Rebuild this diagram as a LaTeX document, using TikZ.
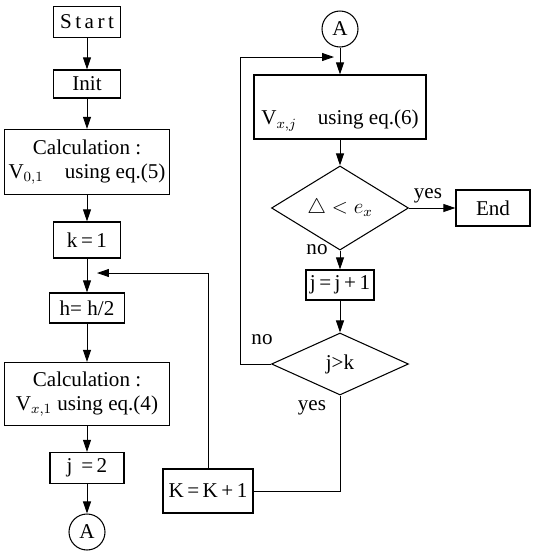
\documentclass[tikz,border=0pt]{standalone}
\usepackage{fontspec}
\setmainfont{Liberation Serif}
\usetikzlibrary{shapes.geometric, arrows.meta, positioning}

\begin{document}
\begin{tikzpicture}[
        x=0.02cm, y=-0.02cm,
        font=\fontsize{12}{14}\selectfont,
        box/.style={
            rectangle,
            draw,
            line width=0.7pt,
            align=center,
            inner sep=2pt
        },
        decision/.style={
            diamond,
            draw,
            line width=0.6pt,
            inner sep=0pt
        },
        connector/.style={
            circle,
            draw,
            line width=0.6pt,
            minimum size=0.72cm,
            inner sep=0pt
        },
        arrow/.style={
            -{Triangle[length=2.4mm, width=1.6mm]},
            line width=0.5pt
        },
        line/.style={
            line width=0.5pt
        },
        note/.style={
            inner sep=1pt
        }
    ]
        \useasboundingbox (0,0) rectangle (532,552);

        % Left column
        \node[box, minimum width=1.34cm, minimum height=0.62cm] (start) at (87,22) {S\,t\,a\,r\,t};
        \node[box, minimum width=1.34cm, minimum height=0.56cm] (init) at (87,84) {Init};
        \node[box, minimum width=3.3cm, minimum height=1.3cm] (calc1) at (87,162) {Calculation :\\ V$_{0,1}$\quad using eq.(5)};
        \node[box, minimum width=1.34cm, minimum height=0.72cm] (kone) at (87,240) {k\,=\,1};
        \node[box, minimum width=1.5cm, minimum height=0.6cm] (half) at (87,308) {h= h/2};
        \node[box, minimum width=3.3cm, minimum height=1.26cm] (calc2) at (87,394) {Calculation :\\ V$_{x,1}$\ using eq.(4)};
        \node[box, minimum width=1.48cm, minimum height=0.62cm] (jtwo) at (87,468) {j \,=\,2};
        \node[connector] (ca) at (87,532) {A};

        % Right column
        \node[connector] (cb) at (340,29) {A};
        \node[box, minimum width=3.44cm, minimum height=1.28cm] (vcalc) at (340,107) {\strut\\ V$_{x,j}$\quad using eq.(6)};
        \node[decision, minimum width=2.74cm, minimum height=1.2cm] (dia1) at (340,208) {$\triangle < e_x$};
        \node[box, minimum width=1.48cm, minimum height=0.72cm] (endb) at (493,208) {End};
        \node[box, minimum width=1.36cm, minimum height=0.6cm] (jinc) at (340,285) {j\,=\,j\,+\,1};
        \node[decision, minimum width=2.74cm, minimum height=1.24cm] (dia2) at (340,364) {j>k};
        \node[box, minimum width=1.8cm, minimum height=0.88cm] (kinc) at (208,491) {K\,=\,K\,+\,1};

        % Labels
        \node[note] (yes1) at (428,196) {yes};
        \node[note] (no1) at (317,250) {no};
        \node[note] (no2) at (262,340) {no};
        \node[note] (yes2) at (312,408) {yes};

        % Loop ends
        \coordinate (loopin) at (97,273);
        \coordinate (ltop) at (240,57);
        \coordinate (vin) at (334,57);

        % Arrows
        \draw[arrow] (start) -- (init);
        \draw[arrow] (init) -- (calc1);
        \draw[arrow] (calc1) -- (kone);
        \draw[arrow] (kone) -- (half);
        \draw[arrow] (half) -- (calc2);
        \draw[arrow] (calc2) -- (jtwo);
        \draw[arrow] (jtwo) -- (ca);
        \draw[arrow] (cb) -- (vcalc);
        \draw[arrow] (vcalc) -- (dia1);
        \draw[arrow] (dia1) -- (endb);
        \draw[arrow] (dia1) -- (jinc);
        \draw[arrow] (jinc) -- (dia2);
        \draw[arrow] (dia2.west) -| (ltop) -- (vin);
        \draw[line] (dia2.south) |- (kinc.east);
        \draw[arrow] (kinc.north) |- (loopin);
    \end{tikzpicture}
\end{document}
